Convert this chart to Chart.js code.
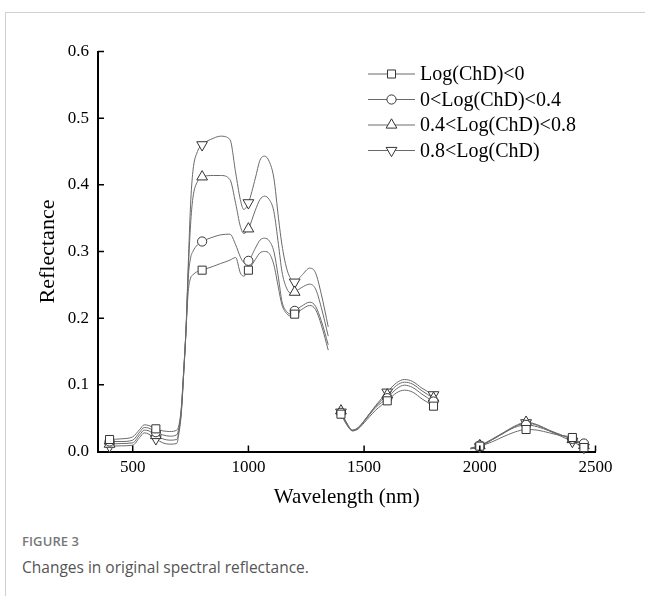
<!DOCTYPE html>
<html>
<head>
<meta charset="utf-8">
<script src="https://cdn.jsdelivr.net/npm/chart.js@4.4.1/dist/chart.umd.min.js"></script>
<style>
  html, body { margin: 0; padding: 0; background: #fff; }
  body { width: 645px; height: 596px; position: relative; overflow: hidden; }
  #frame { position: absolute; left: 5px; top: 12px; width: 660px; height: 620px;
           border-left: 1px solid #d0d0d0; border-top: 1px solid #d0d0d0; }
  #grafica { position: absolute; left: 0; top: 0; }
  .cap1 { position: absolute; left: 22px; top: 532px; font: 600 13px "Open Sans", sans-serif; color: #777; letter-spacing: 0.1px; }
  .cap2 { position: absolute; left: 22px; top: 556px; font: 15.5px "Open Sans", sans-serif; color: #555; }
</style>
</head>
<body>
<div id="frame"></div>
<canvas id="grafica" width="645" height="520"></canvas>
<div class="cap1">FIGURE 3</div>
<div class="cap2">Changes in original spectral reflectance.</div>
<script>
// longitudes de onda (nm); null = hueco de absorción de agua
const longitudes = [400, 450, 500, 530, 550, 570, 600, 630, 660, 690, 700, 710, 720, 730, 740, 750, 760, 780, 800,
  850, 880, 920, 945, 965, 980, 1000, 1030, 1050, 1070, 1090, 1110, 1130, 1145, 1165, 1185, 1200, 1230, 1265, 1290, 1315, 1345,
  1370,
  1400, 1425, 1450, 1475, 1500, 1550, 1600, 1640, 1675, 1710, 1750, 1800,
  1900,
  1960, 2000, 2050, 2100, 2150, 2200, 2250, 2300, 2350, 2400, 2450];

const serieMenor0 = [0.018, 0.019, 0.022, 0.033, 0.040, 0.039, 0.034, 0.031, 0.030, 0.032, 0.040, 0.066, 0.120, 0.180, 0.240, 0.260, 0.265, 0.270, 0.272,
  0.278, 0.282, 0.287, 0.291, 0.268, 0.263, 0.272, 0.288, 0.298, 0.300, 0.297, 0.280, 0.245, 0.220, 0.207, 0.203, 0.206, 0.213, 0.219, 0.213, 0.190, 0.152,
  null,
  0.056, 0.040, 0.031, 0.034, 0.043, 0.062, 0.076, 0.088, 0.092, 0.089, 0.079, 0.068,
  null,
  0.004, 0.008, 0.014, 0.022, 0.029, 0.033, 0.032, 0.028, 0.024, 0.021, 0.006];

const serie0a04 = [0.015, 0.015, 0.017, 0.029, 0.036, 0.035, 0.029, 0.025, 0.023, 0.025, 0.036, 0.063, 0.118, 0.180, 0.260, 0.290, 0.300, 0.310, 0.315,
  0.322, 0.325, 0.326, 0.310, 0.292, 0.284, 0.286, 0.305, 0.317, 0.320, 0.316, 0.300, 0.260, 0.225, 0.210, 0.206, 0.211, 0.218, 0.224, 0.218, 0.196, 0.160,
  null,
  0.058, 0.041, 0.031, 0.035, 0.045, 0.066, 0.080, 0.094, 0.0995, 0.096, 0.086, 0.075,
  null,
  0.005, 0.009, 0.017, 0.027, 0.036, 0.040, 0.037, 0.031, 0.025, 0.019, 0.012];

const serie04a08 = [0.011, 0.012, 0.013, 0.025, 0.032, 0.031, 0.024, 0.019, 0.017, 0.018, 0.032, 0.060, 0.116, 0.180, 0.270, 0.340, 0.380, 0.405, 0.412,
  0.414, 0.414, 0.408, 0.372, 0.338, 0.327, 0.334, 0.362, 0.378, 0.383, 0.378, 0.360, 0.310, 0.270, 0.245, 0.237, 0.239, 0.246, 0.251, 0.244, 0.216, 0.173,
  null,
  0.061, 0.043, 0.032, 0.036, 0.046, 0.068, 0.085, 0.099, 0.104, 0.101, 0.091, 0.080,
  null,
  0.005, 0.009, 0.018, 0.028, 0.038, 0.044, 0.040, 0.032, 0.025, 0.018, 0.009];

const serieMayor08 = [0.008, 0.0085, 0.0095, 0.021, 0.028, 0.026, 0.019, 0.013, 0.011, 0.012, 0.028, 0.057, 0.114, 0.180, 0.280, 0.370, 0.420, 0.450, 0.460,
  0.470, 0.473, 0.468, 0.418, 0.378, 0.363, 0.373, 0.410, 0.437, 0.443, 0.435, 0.410, 0.350, 0.310, 0.275, 0.258, 0.254, 0.264, 0.275, 0.268, 0.236, 0.187,
  null,
  0.059, 0.042, 0.032, 0.036, 0.046, 0.069, 0.089, 0.103, 0.108, 0.105, 0.095, 0.085,
  null,
  0.004, 0.007, 0.017, 0.027, 0.037, 0.043, 0.039, 0.031, 0.023, 0.015, 0.006];

// longitudes con marcador
const marcadores = [400, 600, 800, 1000, 1200, 1400, 1600, 1800, 2000, 2200, 2400, 2450];

const etiquetas = ["Log(ChD)<0", "0<Log(ChD)<0.4", "0.4<Log(ChD)<0.8", "0.8<Log(ChD)"];
const ticksX = [500, 1000, 1500, 2000, 2500];

const estilos = [
  { style: 'rect', radius: 5.7, rot: 0 },
  { style: 'circle', radius: 4.6, rot: 0 },
  { style: 'triangle', radius: 6.2, rot: 0 },
  { style: 'triangle', radius: 6.2, rot: 180 }
];
const series = [serieMenor0, serie0a04, serie04a08, serieMayor08];

const fuente = '"Liberation Serif", "Times New Roman", serif';

const datasets = series.map((vals, i) => ({
  label: etiquetas[i],
  data: longitudes.map((x, j) => ({ x: x, y: vals[j] })),
  borderColor: '#6a6a6a',
  borderWidth: 1,
  backgroundColor: '#fff',
  pointBorderColor: '#333',
  pointBorderWidth: 1,
  pointStyle: estilos[i].style,
  pointRotation: estilos[i].rot,
  pointRadius: ctx => (ctx.raw && marcadores.includes(ctx.raw.x)) ? estilos[i].radius : 0,
  pointHoverRadius: 0,
  cubicInterpolationMode: 'monotone',
  spanGaps: false,
  clip: false
}));

// ticks hacia adentro + leyenda con línea y marcador
const extras = {
  id: 'extras',
  afterDraw(chart) {
    const ctx = chart.ctx;
    const xs = chart.scales.x, ys = chart.scales.y;
    const a = chart.chartArea;
    ctx.save();
    ctx.strokeStyle = '#000';
    ctx.lineWidth = 1.5;
    ctx.beginPath();
    ticksX.forEach(v => {
      const px = xs.getPixelForValue(v);
      ctx.moveTo(px, a.bottom);
      ctx.lineTo(px, a.bottom - 6);
    });
    [0.1, 0.2, 0.3, 0.4, 0.5, 0.6].forEach(v => {
      const py = ys.getPixelForValue(v);
      ctx.moveTo(a.left, py);
      ctx.lineTo(a.left + 6, py);
    });
    ctx.stroke();

    // leyenda
    const filas = [74, 99.5, 125, 150.5];
    etiquetas.forEach((t, i) => {
      const y = filas[i];
      ctx.strokeStyle = '#6a6a6a';
      ctx.lineWidth = 1;
      ctx.beginPath();
      ctx.moveTo(368, y);
      ctx.lineTo(415, y);
      ctx.stroke();
      ctx.fillStyle = '#fff';
      ctx.strokeStyle = '#333';
      Chart.helpers.drawPoint(ctx, {
        pointStyle: estilos[i].style, rotation: estilos[i].rot,
        radius: estilos[i].radius, borderWidth: 1
      }, 391.5, y);
      ctx.fillStyle = '#000';
      ctx.font = '20px ' + fuente;
      ctx.textBaseline = 'middle';
      ctx.textAlign = 'left';
      ctx.fillText(t, 420, y + 1);
    });
    ctx.restore();
  }
};

const chart = new Chart(document.getElementById('grafica').getContext('2d'), {
  type: 'line',
  data: { datasets: datasets },
  options: {
    responsive: false,
    animation: false,
    devicePixelRatio: 1,
    layout: { padding: { top: 51.5, right: 49.5, left: 0, bottom: 0 } },
    plugins: { legend: { display: false }, tooltip: { enabled: false } },
    scales: {
      x: {
        type: 'linear',
        min: 350, max: 2500,
        afterBuildTicks: s => { s.ticks = ticksX.map(v => ({ value: v })); },
        afterFit: s => { s.height = 68.5; },
        grid: { display: false, drawTicks: false },
        border: { display: true, color: '#000', width: 2 },
        ticks: { color: '#000', padding: 6, maxRotation: 0, callback: v => String(v),
                 font: { family: fuente, size: 17 } },
        title: { display: true, text: 'Wavelength (nm)', color: '#000',
                 font: { family: fuente, size: 21 }, padding: { top: 0, bottom: 10 } }
      },
      y: {
        min: 0, max: 0.6,
        afterFit: s => { s.width = 98; },
        grid: { display: false, drawTicks: false },
        border: { display: true, color: '#000', width: 2 },
        ticks: { stepSize: 0.1, color: '#000', padding: 9,
                 callback: v => v.toFixed(1), font: { family: fuente, size: 17 } },
        title: { display: true, text: 'Reflectance', color: '#000',
                 font: { family: fuente, size: 22 }, padding: { top: 35, bottom: 0 } }
      }
    }
  },
  plugins: [extras]
});
</script>
</body>
</html>
